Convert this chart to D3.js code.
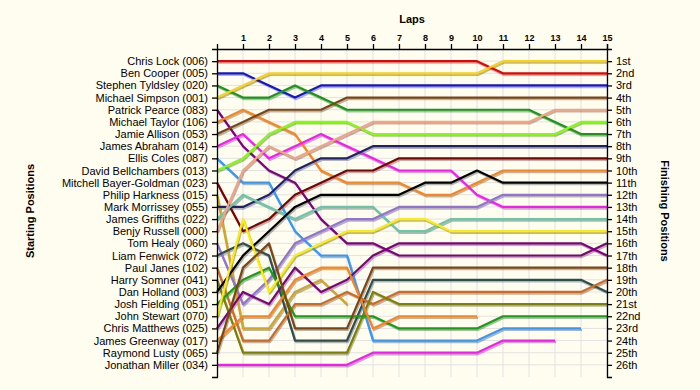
<!DOCTYPE html>
<html>
<head>
<meta charset="utf-8">
<script src="https://cdn.jsdelivr.net/npm/d3@7"></script>
<style>
  body { margin: 0; background: #fefdf0; }
  svg { display: block; font-family: "Liberation Sans", Arial, sans-serif; }
</style>
</head>
<body>
<div id="chart"></div>
<script>
// starting grid order
const drivers = [
  "Chris Lock (006)", "Ben Cooper (005)", "Stephen Tyldsley (020)", "Michael Simpson (001)",
  "Patrick Pearce (083)", "Michael Taylor (106)", "Jamie Allison (053)", "James Abraham (014)",
  "Ellis Coles (087)", "David Bellchambers (013)", "Mitchell Bayer-Goldman (023)", "Philip Harkness (015)",
  "Mark Morrissey (055)", "James Griffiths (022)", "Benjy Russell (000)", "Tom Healy (060)",
  "Liam Fenwick (072)", "Paul Janes (102)", "Harry Somner (041)", "Dan Holland (003)",
  "Josh Fielding (051)", "John Stewart (070)", "Chris Matthews (025)", "James Greenway (017)",
  "Raymond Lusty (065)", "Jonathan Miller (034)"
];

const lapNumbers = d3.range(1, 16);

const finishLabels = [
  "1st", "2nd", "3rd", "4th", "5th", "6th", "7th", "8th", "9th", "10th", "11th", "12th", "13th",
  "14th", "15th", "16th", "17th", "18th", "19th", "20th", "21st", "22nd", "23rd", "24th", "25th", "26th"
];

// position at lap 0..15 (shorter = retired)
const positions = [
  [1, 1, 1, 1, 1, 1, 1, 1, 1, 1, 1, 2, 2, 2, 2, 2],
  [2, 2, 3, 4, 3, 3, 3, 3, 3, 3, 3, 3, 3, 3, 3, 3],
  [3, 4, 4, 3, 4, 5, 5, 5, 5, 5, 5, 5, 5, 6, 7, 7],
  [4, 3, 2, 2, 2, 2, 2, 2, 2, 2, 2, 1, 1, 1, 1, 1],
  [5, 8, 10, 11, 14, 16, 16, 17, 17, 17, 17, 17, 17, 17, 17, 16],
  [6, 5, 6, 7, 10, 11, 11, 11, 12, 12, 11, 10, 10, 10, 10, 10],
  [7, 6, 5, 5, 5, 4, 4, 4, 4, 4, 4, 4, 4, 4, 4, 4],
  [8, 7, 9, 8, 7, 8, 9, 10, 10, 10, 12, 13, 13, 13, 13, 13],
  [9, 11, 11, 15, 17, 17, 24, 24, 24, 24, 24, 23, 23, 23, 23],
  [10, 9, 7, 6, 6, 6, 7, 7, 7, 7, 7, 7, 7, 7, 6, 6],
  [11, 15, 14, 12, 11, 10, 10, 9, 9, 9, 9, 9, 9, 9, 9, 9],
  [12, 23, 23, 20, 19, 21],
  [13, 13, 12, 10, 9, 9, 8, 8, 8, 8, 8, 8, 8, 8, 8, 8],
  [14, 12, 13, 14, 13, 13, 13, 15, 15, 14, 14, 14, 14, 14, 14, 14],
  [15, 10, 8, 9, 8, 7, 6, 6, 6, 6, 6, 6, 6, 5, 5, 5],
  [16, 21, 19, 16, 15, 14, 14, 13, 13, 13, 13, 12, 12, 12, 12, 12],
  [17, 16, 17, 24, 24, 24, 19, 19, 19, 19, 19, 19, 19, 19, 19, 20],
  [18, 24, 24, 21, 21, 20, 21, 20, 20, 20, 20, 20, 20, 20, 20, 19],
  [19, 25, 25, 25, 25, 25, 20, 21, 21, 21, 21, 21, 21, 21, 21, 21],
  [20, 17, 15, 13, 12, 12, 12, 12, 11, 11, 10, 11, 11, 11, 11, 11],
  [21, 19, 18, 22, 22, 22, 22, 23, 23, 23, 23, 22, 22, 22, 22, 22],
  [22, 14, 20, 17, 16, 15, 15, 14, 14, 15, 15, 15, 15, 15, 15, 15],
  [23, 20, 21, 18, 20, 19, 17, 16, 16, 16, 16, 16, 16, 16, 16, 17],
  [24, 22, 22, 19, 18, 18, 23, 22, 22, 22, 22],
  [25, 18, 16, 23, 23, 23, 18, 18, 18, 18, 18, 18, 18, 18, 18, 18],
  [26, 26, 26, 26, 26, 26, 25, 25, 25, 25, 25, 24, 24, 24]
];

const colors = [
  "#ee0000", "#1414d6", "#159a15", "#ffd400", "#800080", "#ff8415", "#7f4510", "#ff14ff",
  "#3399ff", "#7fff00", "#800000", "#d4a520", "#1f1f72", "#66c8a8", "#f5a282", "#9370db",
  "#2f4f4f", "#d2691e", "#808000", "#000000", "#13a013", "#ffee00", "#800080", "#ff8415",
  "#7f4510", "#ff14ff"
];

const width = 700, height = 390;

const svg = d3.select("#chart").append("svg")
  .attr("width", width)
  .attr("height", height);

const x = d3.scaleLinear().domain([0, 15]).range([217, 607]);
const y = d3.scaleLinear().domain([0, 27]).range([49, 377]);

// grid
svg.append("g").selectAll("line").data(lapNumbers).join("line")
  .attr("x1", d => x(d)).attr("x2", d => x(d))
  .attr("y1", y(0)).attr("y2", y(27))
  .attr("stroke", "#e2e2e2");
svg.append("g").selectAll("line").data(d3.range(1, 27)).join("line")
  .attr("x1", x(0)).attr("x2", x(15))
  .attr("y1", d => y(d)).attr("y2", d => y(d))
  .attr("stroke", "#e2e2e2");

const line = d3.line()
  .x((d, i) => x(i))
  .y(d => y(d));

// shadows first
svg.append("g")
  .attr("transform", "translate(1,1.6)")
  .selectAll("path").data(positions).join("path")
  .attr("d", line)
  .attr("fill", "none")
  .attr("stroke", "rgba(0,0,0,0.28)")
  .attr("stroke-width", 2.2)
  .attr("stroke-linejoin", "round");

svg.append("g")
  .selectAll("path").data(positions).join("path")
  .attr("d", line)
  .attr("fill", "none")
  .attr("stroke", (d, i) => colors[i])
  .attr("stroke-width", 2.2)
  .attr("stroke-linejoin", "round");

// axes
const axisTop = d3.axisTop(x).tickValues(lapNumbers).tickSize(5).tickSizeOuter(5).tickPadding(3);
const axisLeft = d3.axisLeft(y).tickValues(d3.range(1, 27))
  .tickFormat(d => drivers[d - 1]).tickSize(5).tickSizeOuter(5).tickPadding(4);
const axisRight = d3.axisRight(y).tickValues(d3.range(1, 27))
  .tickFormat(d => finishLabels[d - 1]).tickSize(5).tickSizeOuter(5).tickPadding(4);

const gTop = svg.append("g").attr("transform", `translate(0,${y(0)})`).call(axisTop);
gTop.selectAll("text").attr("font-size", 9).attr("font-weight", "bold").attr("fill", "#000");

const gLeft = svg.append("g").attr("transform", `translate(${x(0)},0)`).call(axisLeft);
gLeft.selectAll("text").attr("font-size", 11).attr("fill", "#000");

const gRight = svg.append("g").attr("transform", `translate(${x(15)},0)`).call(axisRight);
gRight.selectAll("text").attr("font-size", 11).attr("fill", "#000");

svg.selectAll(".domain, .tick line").attr("stroke", "#000").attr("stroke-width", 1.3);

// titles
svg.append("text")
  .attr("x", 412).attr("y", 23)
  .attr("text-anchor", "middle")
  .attr("font-size", 11).attr("font-weight", "bold")
  .text("Laps");

svg.append("text")
  .attr("transform", "translate(34,211) rotate(-90)")
  .attr("text-anchor", "middle")
  .attr("font-size", 11).attr("font-weight", "bold")
  .text("Starting Positions");

svg.append("text")
  .attr("transform", "translate(661,211) rotate(90)")
  .attr("text-anchor", "middle")
  .attr("font-size", 11).attr("font-weight", "bold")
  .text("Finishing Positions");
</script>
</body>
</html>
